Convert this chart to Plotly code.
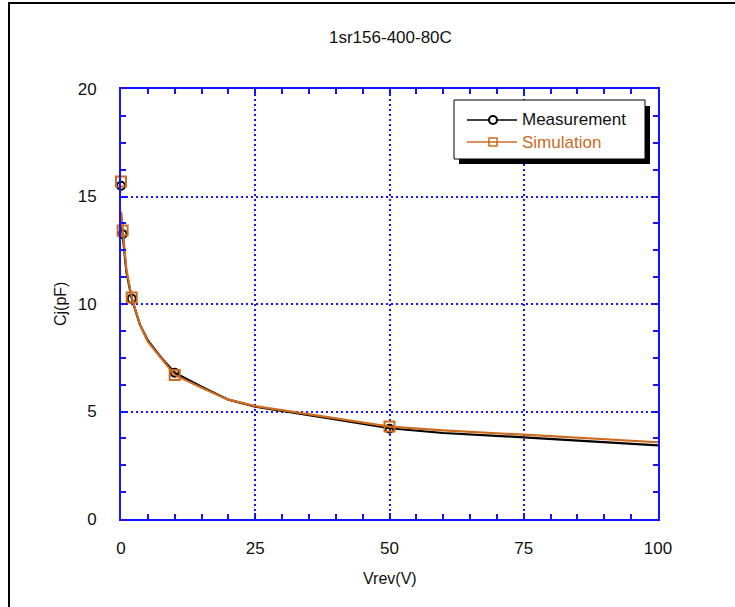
import plotly.graph_objects as go

# ---- data ----
curve_x = [0, 0.3, 1, 2, 3.5, 5, 7.5, 10, 15, 20, 25, 30, 40, 50, 60, 75, 100]
meas_curve = [14.2, 13.25, 11.5, 10.25, 9.05, 8.3, 7.5, 6.8, 6.15, 5.55, 5.22, 5.03, 4.63, 4.22, 4.0, 3.8, 3.42]
sim_curve = [14.3, 13.4, 11.6, 10.3, 9.05, 8.25, 7.45, 6.7, 6.1, 5.55, 5.25, 5.05, 4.68, 4.3, 4.12, 3.92, 3.57]

marker_x = [0, 0.3, 2, 10, 50]
meas_pts = [15.5, 13.25, 10.25, 6.8, 4.2]
sim_pts = [15.7, 13.42, 10.3, 6.7, 4.3]

x_ticks = [0, 25, 50, 75, 100]
y_ticks = [0, 5, 10, 15, 20]

title_text = "1sr156-400-80C"
x_title = "Vrev(V)"
y_title = "Cj(pF)"
series_names = ["Measurement", "Simulation"]

BLUE = "#1414ff"
ORANGE = "#cc6a1e"
TXT = "#111111"
FONT = "Liberation Sans, Arial, sans-serif"

W, H = 735, 607
L, R, T, B = 121, 658, 89, 519


def px(x):
    return (x - L) / (R - L)


def py(y):
    return (B - y) / (B - T)


fig = go.Figure()
fig.add_trace(go.Scatter(x=curve_x, y=meas_curve, mode="lines",
                         line=dict(color="black", width=2.2), showlegend=False))
fig.add_trace(go.Scatter(x=marker_x, y=meas_pts, mode="markers", cliponaxis=False,
                         marker=dict(symbol="circle-open", size=8, color="black",
                                     line=dict(width=2)), showlegend=False))
fig.add_trace(go.Scatter(x=curve_x, y=sim_curve, mode="lines",
                         line=dict(color=ORANGE, width=2.2), showlegend=False))
fig.add_trace(go.Scatter(x=marker_x, y=sim_pts, mode="markers", cliponaxis=False,
                         marker=dict(symbol="square-open", size=10, color=ORANGE,
                                     line=dict(width=2)), showlegend=False))

axis_common = dict(
    showline=True, linecolor=BLUE, linewidth=2, mirror="allticks",
    ticks="inside", ticklen=6, tickcolor=BLUE, tickwidth=2,
    showgrid=True, gridcolor=BLUE, griddash="2px,3px", gridwidth=2,
    zeroline=False,
    tickfont=dict(family=FONT, size=17, color=TXT),
)

fig.update_xaxes(range=[0, 100], tickvals=x_ticks, ticktext=[str(v) for v in x_ticks],
                 ticklabelstandoff=13,
                 minor=dict(ticks="inside", ticklen=5, tickcolor=BLUE, tickwidth=2,
                            dtick=5, showgrid=False),
                 **axis_common)
fig.update_yaxes(range=[0, 20], tickvals=y_ticks, ticktext=[str(v) for v in y_ticks],
                 ticklabelstandoff=19,
                 minor=dict(ticks="inside", ticklen=5, tickcolor=BLUE, tickwidth=2,
                            dtick=1.25, showgrid=False),
                 **axis_common)

shapes = [
    # outer frame
    dict(type="rect", xref="paper", yref="paper",
         x0=px(9), x1=px(760), y0=py(640), y1=py(3),
         line=dict(color="black", width=2), fillcolor="rgba(0,0,0,0)", layer="below"),
    # legend shadow
    dict(type="rect", xref="paper", yref="paper",
         x0=px(459), x1=px(650), y0=py(164), y1=py(106),
         line=dict(width=0), fillcolor="black"),
    # legend box
    dict(type="rect", xref="paper", yref="paper",
         x0=px(454), x1=px(645), y0=py(159), y1=py(100),
         line=dict(color="black", width=1), fillcolor="white"),
    # legend samples
    dict(type="line", xref="paper", yref="paper",
         x0=px(467), x1=px(517), y0=py(120), y1=py(120),
         line=dict(color="black", width=1.5)),
    dict(type="circle", xref="paper", yref="paper",
         x0=px(489), x1=px(497), y0=py(124), y1=py(116),
         line=dict(color="black", width=2), fillcolor="white"),
    dict(type="line", xref="paper", yref="paper",
         x0=px(467), x1=px(517), y0=py(142), y1=py(142),
         line=dict(color=ORANGE, width=1.5)),
    dict(type="rect", xref="paper", yref="paper",
         x0=px(489), x1=px(497), y0=py(146), y1=py(138),
         line=dict(color=ORANGE, width=1.5), fillcolor="rgba(0,0,0,0)"),
]

annotations = [
    dict(text=series_names[0], xref="paper", yref="paper", x=px(520), y=py(120),
         xanchor="left", yanchor="middle", showarrow=False,
         font=dict(family=FONT, size=17, color=TXT)),
    dict(text=series_names[1], xref="paper", yref="paper", x=px(520), y=py(142),
         xanchor="left", yanchor="middle", showarrow=False,
         font=dict(family=FONT, size=17, color=ORANGE)),
    dict(text=title_text, xref="paper", yref="paper", x=px(390), y=py(38),
         xanchor="center", yanchor="middle", showarrow=False,
         font=dict(family=FONT, size=17, color=TXT)),
    dict(text=x_title, xref="paper", yref="paper", x=px(390), y=py(578),
         xanchor="center", yanchor="middle", showarrow=False,
         font=dict(family=FONT, size=16, color=TXT)),
    dict(text=y_title, xref="paper", yref="paper", x=px(60), y=py(304),
         xanchor="center", yanchor="middle", showarrow=False, textangle=-90,
         font=dict(family=FONT, size=16, color=TXT)),
]

fig.update_layout(
    width=W, height=H,
    margin=dict(l=L, r=W - R, t=T, b=H - B),
    paper_bgcolor="white", plot_bgcolor="white",
    showlegend=False, hovermode=False,
    shapes=shapes, annotations=annotations,
)

fig.write_html("out.html", config={"displayModeBar": False, "staticPlot": True},
               post_script="document.body.style.margin='0';document.body.style.overflow='hidden';")
